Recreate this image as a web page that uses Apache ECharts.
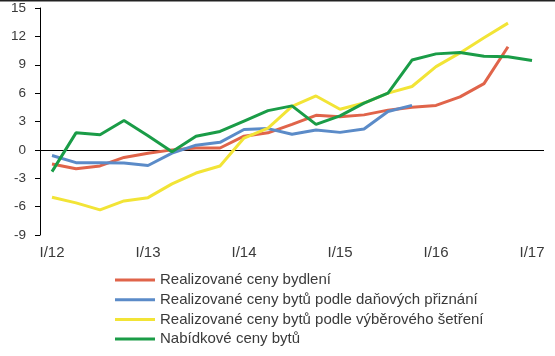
<!DOCTYPE html>
<html>
<head>
<meta charset="utf-8">
<script src="https://cdn.jsdelivr.net/npm/echarts@6/dist/echarts.min.js"></script>
<style>
html,body{margin:0;padding:0;background:#fff;}
#chart{width:555px;height:356px;}
</style>
</head>
<body>
<div id="chart"></div>
<script>
// Quarters I/12 .. I/17
const categories = ['I/12','II/12','III/12','IV/12','I/13','II/13','III/13','IV/13','I/14','II/14','III/14','IV/14','I/15','II/15','III/15','IV/15','I/16','II/16','III/16','IV/16','I/17'];
const seriesNames = ['Realizované ceny bydlení','Realizované ceny bytů podle daňových přiznání','Realizované ceny bytů podle výběrového šetření','Nabídkové ceny bytů'];
const realizedHousing = [-1.5,-2.0,-1.7,-0.8,-0.35,0.0,0.2,0.2,1.45,1.8,2.7,3.65,3.5,3.7,4.2,4.5,4.7,5.6,7.0,10.9,null];
const realizedTax = [-0.6,-1.35,-1.35,-1.4,-1.65,-0.35,0.5,0.8,2.15,2.25,1.65,2.1,1.85,2.2,4.05,4.7,null,null,null,null,null];
const realizedSurvey = [-5.0,-5.6,-6.35,-5.4,-5.05,-3.6,-2.45,-1.7,1.25,2.3,4.6,5.7,4.3,4.95,6.0,6.7,8.8,10.25,11.85,13.4,null];
const offerPrices = [-2.3,1.8,1.6,3.1,1.5,-0.2,1.45,1.95,3.05,4.15,4.65,2.7,3.6,4.95,6.0,9.5,10.15,10.3,9.9,9.85,9.45];
const yTicks = {min:-9, max:15, interval:3};
const colors = ['#e0644a','#5b8bc8','#f2e436','#1a9c47'];

const chart = echarts.init(document.getElementById('chart'), null, {renderer:'canvas'});
const font = 'Liberation Sans, Arial, sans-serif';
const dataSets = [realizedHousing, realizedTax, realizedSurvey, offerPrices];
const series = dataSets.map((d,i)=>({
  name: seriesNames[i],
  type: 'line',
  data: d,
  symbol: 'none',
  lineStyle: {width: 3, color: colors[i]},
  itemStyle: {color: colors[i]},
  z: 2 + i
}));
series[0].markLine = {
  silent: true,
  symbol: ['none','none'],
  label: {show:false},
  lineStyle: {color:'#000', width:1, type:'solid'},
  data: [{yAxis: 0}],
  z: 1
};
chart.setOption({
  animation: false,
  backgroundColor: '#fff',
  textStyle: {fontFamily: font},
  grid: {left: 40, right: 11, top: 8, bottom: 121, containLabel: false},
  xAxis: {
    type: 'category',
    data: categories,
    boundaryGap: true,
    axisLine: {show: false, onZero: false},
    axisTick: {show: false},
    axisLabel: {
      interval: 3,
      margin: 10,
      fontSize: 15,
      color: '#3a3a3a',
      fontFamily: font,
      formatter: v => v.startsWith('I/') ? v : ''
    },
    splitLine: {show: false}
  },
  yAxis: {
    type: 'value',
    min: yTicks.min, max: yTicks.max, interval: yTicks.interval,
    axisLine: {show: true, lineStyle: {color: '#000', width: 1}},
    axisTick: {show: true, length: 5, lineStyle: {color: '#000'}},
    axisLabel: {fontSize: 13.5, color: '#3a3a3a', margin: 14, fontFamily: font},
    splitLine: {show: false}
  },
  legend: {
    orient: 'vertical',
    left: 115,
    top: 272,
    height: 84,
    width: 435,
    padding: 0,
    itemWidth: 40,
    itemHeight: 3,
    itemGap: 3.7,
    icon: 'rect',
    textStyle: {fontSize: 15, color: '#3a3a3a', lineHeight: 16, fontFamily: font},
    data: seriesNames
  },
  graphic: [{
    type: 'rect',
    shape: {x: 0, y: 0, width: 555, height: 1.5},
    style: {fill: '#222'},
    silent: true
  }],
  series: series
});
</script>
</body>
</html>
